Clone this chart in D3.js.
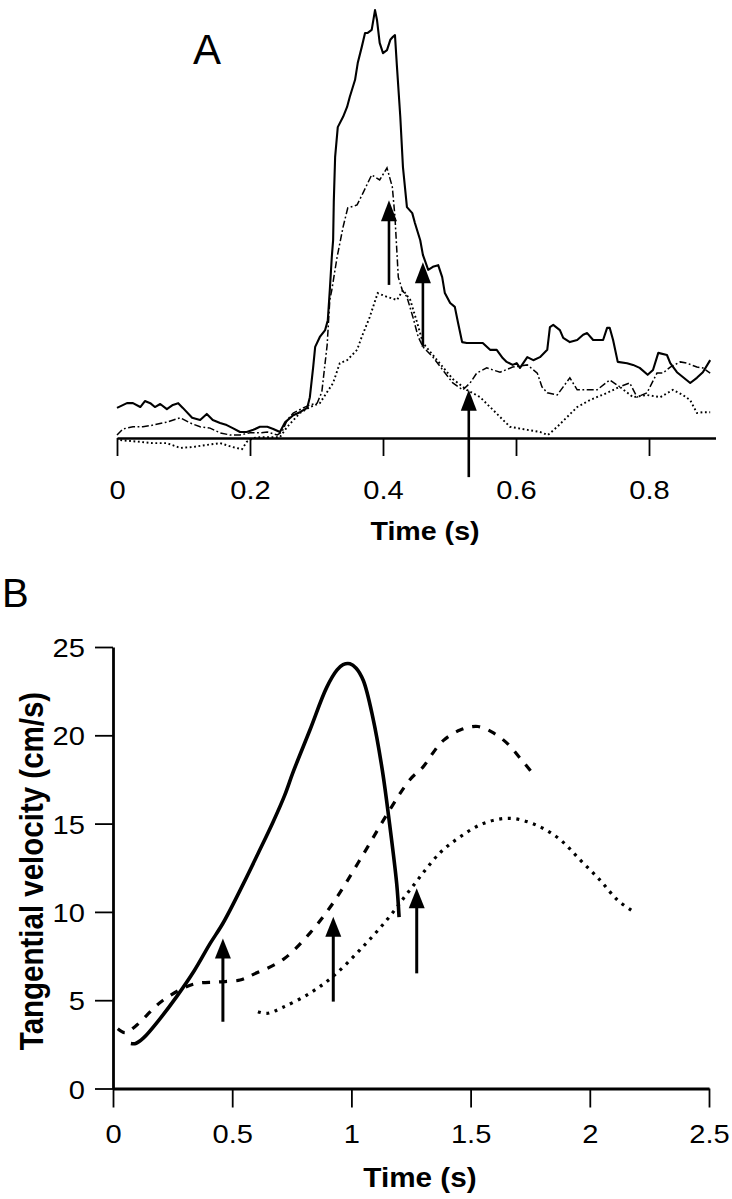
<!DOCTYPE html>
<html>
<head>
<meta charset="utf-8">
<script src="https://cdn.jsdelivr.net/npm/d3@7"></script>
<style>
  html, body { margin: 0; padding: 0; background: #fff; }
  svg { display: block; }
</style>
</head>
<body>
<script>
// ---------- DATA ----------
// Panel A : time (s), amplitude (arbitrary units, 0 = baseline)
const solidA = [
  [0.000,7.0],[0.015,8.1],[0.024,8.1],[0.035,7.2],[0.042,8.6],[0.050,8.1],[0.057,7.2],[0.065,7.9],
  [0.075,6.7],[0.084,7.7],[0.092,8.1],[0.099,7.0],[0.113,4.7],[0.125,4.2],[0.135,5.6],[0.144,4.2],
  [0.155,3.5],[0.165,3.0],[0.174,2.3],[0.185,1.4],[0.195,1.4],[0.205,1.9],[0.215,2.6],[0.226,2.6],
  [0.235,2.1],[0.245,1.4],[0.253,3.7],[0.265,5.3],[0.275,6.0],[0.286,7.0],[0.290,9.5],[0.295,16.5],
  [0.298,21.2],[0.305,23.5],[0.313,25.1],[0.317,27.4],[0.320,34.4],[0.323,42.1],[0.325,46.0],
  [0.326,55.0],[0.328,65.3],[0.332,72.3],[0.340,74.7],[0.346,77.0],[0.350,79.3],[0.358,83.3],
  [0.362,87.2],[0.368,90.9],[0.373,94.2],[0.377,94.2],[0.383,94.9],[0.388,99.5],[0.391,97.2],
  [0.395,91.9],[0.400,89.5],[0.406,90.2],[0.411,92.6],[0.415,93.3],[0.418,93.7],[0.421,86.3],
  [0.426,74.7],[0.430,63.0],[0.436,53.7],[0.444,52.3],[0.448,50.0],[0.456,46.0],[0.460,42.6],
  [0.468,39.1],[0.475,39.8],[0.483,40.2],[0.489,37.4],[0.493,33.7],[0.501,31.4],[0.508,30.5],
  [0.513,26.7],[0.519,22.3],[0.526,22.1],[0.541,22.1],[0.550,22.1],[0.561,20.5],[0.571,20.5],
  [0.580,18.6],[0.586,17.7],[0.595,17.0],[0.601,17.4],[0.606,16.3],[0.617,18.8],[0.626,18.1],
  [0.636,18.8],[0.647,20.5],[0.651,25.8],[0.656,26.3],[0.666,25.1],[0.671,23.3],[0.681,22.3],
  [0.692,22.8],[0.701,24.0],[0.707,24.4],[0.716,22.8],[0.731,22.8],[0.737,25.6],[0.741,25.6],
  [0.746,22.8],[0.753,17.7],[0.767,17.4],[0.776,17.0],[0.786,16.3],[0.798,14.7],[0.806,15.8],
  [0.812,18.8],[0.814,19.8],[0.827,19.3],[0.832,17.4],[0.842,15.3],[0.862,12.8],[0.872,14.0],
  [0.881,15.3],[0.892,18.1]
];
const dashDotA = [
  [0.000,0.7],[0.009,2.1],[0.024,2.6],[0.039,2.6],[0.054,3.0],[0.075,3.7],[0.095,4.7],[0.110,3.5],
  [0.125,2.6],[0.140,2.3],[0.155,1.2],[0.170,0.7],[0.185,0.7],[0.200,1.2],[0.215,1.2],[0.226,1.4],
  [0.241,0.7],[0.248,1.4],[0.256,4.2],[0.265,5.8],[0.280,7.0],[0.290,7.7],[0.301,8.1],[0.308,10.7],
  [0.316,21.6],[0.320,32.1],[0.323,34.4],[0.331,42.1],[0.340,49.1],[0.347,53.5],[0.361,54.2],
  [0.370,57.0],[0.383,61.2],[0.395,60.0],[0.406,62.8],[0.414,58.4],[0.418,51.4],[0.423,37.4],
  [0.429,34.4],[0.436,32.8],[0.445,28.1],[0.453,23.5],[0.460,21.2],[0.475,18.8],[0.490,15.8],
  [0.505,12.8],[0.520,11.2],[0.531,12.8],[0.541,15.1],[0.556,16.3],[0.576,15.3],[0.595,16.5],
  [0.617,17.0],[0.632,15.1],[0.639,11.9],[0.647,10.5],[0.662,10.0],[0.671,11.9],[0.681,14.0],
  [0.692,11.2],[0.707,11.2],[0.722,11.2],[0.741,13.5],[0.756,11.9],[0.771,12.8],[0.782,9.5],
  [0.797,10.5],[0.812,15.1],[0.821,15.1],[0.832,16.5],[0.847,17.7],[0.857,17.4],[0.872,16.5],
  [0.881,16.3],[0.892,15.1]
];
const dottedA = [
  [0.005,-0.5],[0.020,-0.7],[0.035,-0.9],[0.054,-1.2],[0.075,-1.2],[0.095,-2.3],[0.114,-2.1],
  [0.135,-1.6],[0.155,-1.2],[0.174,-2.1],[0.188,-2.6],[0.195,-0.9],[0.205,0.0],[0.215,0.2],
  [0.245,0.2],[0.256,2.6],[0.275,5.8],[0.290,7.2],[0.305,8.1],[0.316,10.7],[0.325,12.8],
  [0.335,17.4],[0.346,18.1],[0.361,20.5],[0.368,23.5],[0.380,28.1],[0.392,33.7],[0.406,32.8],
  [0.421,32.1],[0.430,34.4],[0.441,32.1],[0.451,27.0],[0.460,22.1],[0.475,19.3],[0.490,16.5],
  [0.505,13.7],[0.526,11.2],[0.546,9.5],[0.561,7.2],[0.576,4.9],[0.591,2.6],[0.617,1.9],
  [0.636,1.4],[0.648,0.7],[0.662,2.6],[0.677,4.9],[0.692,7.2],[0.711,8.8],[0.737,10.5],
  [0.756,11.9],[0.776,9.5],[0.797,10.0],[0.817,9.5],[0.836,11.2],[0.851,10.0],[0.862,8.8],
  [0.872,5.8],[0.881,6.0],[0.892,6.0]
];
// arrows A: [time, tail value, tip value]
const arrowsA = [[0.409,35.6,55.3],[0.460,21.2,40.9],[0.529,-9.1,11.2]];
const ticksA = [0, 0.2, 0.4, 0.6, 0.8];
const tickLabelsA = ["0", "0.2", "0.4", "0.6", "0.8"];

// Panel B : time (s), tangential velocity (cm/s)
const solidB = [
  [0.075,2.55],[0.095,2.55],[0.127,2.85],[0.20,4.0],[0.267,5.2],[0.34,6.65],[0.407,8.2],
  [0.463,9.4],[0.547,11.6],[0.61,13.35],[0.67,15.05],[0.72,16.6],[0.755,17.9],[0.826,20.3],
  [0.896,22.7],[0.94,23.7],[0.965,24.0],[0.994,24.05],[1.02,23.8],[1.05,23.1],[1.09,21.0],
  [1.13,18.0],[1.16,15.0],[1.19,11.6],[1.20,9.7]
];
const dashedB = [
  [0.02,3.38],[0.05,3.16],[0.092,3.5],[0.21,5.0],[0.336,5.9],[0.436,6.03],[0.533,6.14],
  [0.587,6.45],[0.713,7.3],[0.826,8.8],[0.923,10.5],[1.036,12.95],[1.162,15.8],[1.246,17.5],
  [1.30,18.2],[1.342,19.0],[1.385,19.7],[1.456,20.3],[1.531,20.5],[1.60,20.1],[1.657,19.5],
  [1.708,18.7],[1.757,17.9]
];
const dottedB = [
  [0.608,4.35],[0.645,4.25],[0.713,4.6],[0.826,5.4],[0.923,6.35],[1.036,7.85],[1.149,9.55],
  [1.246,11.25],[1.372,13.35],[1.456,14.25],[1.552,15.0],[1.665,15.3],[1.778,14.9],
  [1.875,14.1],[1.959,12.95],[2.043,11.8],[2.114,10.7],[2.177,10.07]
];
const arrowsB = [[0.461,3.78,8.5],[0.924,4.92,9.73],[1.274,6.52,11.34]];
const ticksBx = [0, 0.5, 1, 1.5, 2, 2.5];
const tickLabelsBx = ["0", "0.5", "1", "1.5", "2", "2.5"];
const ticksBy = [0, 5, 10, 15, 20, 25];
const tickLabelsBy = ["0", "5", "10", "15", "20", "25"];

// ---------- DRAWING ----------
const W = 732, H = 1199;
const FONT = "'Liberation Sans', Arial, Helvetica, sans-serif";
const SX = 1.12;

const svg = d3.select("body").append("svg")
  .attr("width", W).attr("height", H)
  .attr("viewBox", `0 0 ${W} ${H}`);
svg.append("rect").attr("width", W).attr("height", H).attr("fill", "#fff");

function arrow(g, x, yTail, yTip, headLen, headW, sw) {
  g.append("line")
    .attr("x1", x).attr("x2", x)
    .attr("y1", yTail).attr("y2", yTip + headLen - 1)
    .attr("stroke", "#000").attr("stroke-width", sw);
  g.append("path")
    .attr("d", `M${x},${yTip} L${x - headW / 2},${yTip + headLen} L${x + headW / 2},${yTip + headLen} Z`)
    .attr("fill", "#000");
}

// ===== Panel A =====
const xA = d3.scaleLinear().domain([0, 0.9]).range([117, 715.5]);
const yA = d3.scaleLinear().domain([0, 100]).range([438, 8]);
const gA = svg.append("g");

const lineA = d3.line().x(d => xA(d[0])).y(d => yA(d[1]));

gA.append("path").datum(dottedA).attr("d", lineA)
  .attr("fill", "none").attr("stroke", "#000").attr("stroke-width", 1.9)
  .attr("stroke-dasharray", "1.8,2.6");
gA.append("path").datum(dashDotA).attr("d", lineA)
  .attr("fill", "none").attr("stroke", "#000").attr("stroke-width", 1.5)
  .attr("stroke-dasharray", "7,2.5,1.8,2.5");
gA.append("path").datum(solidA).attr("d", lineA)
  .attr("fill", "none").attr("stroke", "#000").attr("stroke-width", 2.1)
  .attr("stroke-linejoin", "round");

const axA = gA.append("g").attr("transform", `translate(0,${yA(0)})`)
  .call(d3.axisBottom(xA).tickValues(ticksA).tickSize(18).tickSizeOuter(0)
    .tickFormat((d, i) => tickLabelsA[i]));
axA.select(".domain").attr("stroke", "#000").attr("stroke-width", 2.6);
axA.selectAll(".tick line").attr("stroke", "#000").attr("stroke-width", 1.8);
axA.selectAll(".tick text")
  .attr("y", null).attr("dy", null)
  .attr("transform", `translate(0,61) scale(${SX},1)`)
  .attr("fill", "#000").attr("font-family", FONT).attr("font-size", 26)
  .attr("text-anchor", "middle");

arrowsA.forEach(a => arrow(gA, xA(a[0]), yA(a[1]), yA(a[2]), 21, 16, 2.6));

gA.append("text").attr("x", 193).attr("y", 64)
  .attr("font-family", FONT).attr("font-size", 42).attr("fill", "#000").text("A");

gA.append("text").attr("transform", `translate(425,540) scale(1.1,1)`)
  .attr("text-anchor", "middle").attr("font-family", FONT).attr("font-weight", "bold")
  .attr("font-size", 26).attr("fill", "#000").text("Time (s)");

// ===== Panel B =====
const xB = d3.scaleLinear().domain([0, 2.5]).range([113, 709]);
const yB = d3.scaleLinear().domain([0, 25]).range([1088.5, 647]);
const gB = svg.append("g");

const lineB = d3.line().x(d => xB(d[0])).y(d => yB(d[1])).curve(d3.curveCatmullRom.alpha(0.5));

gB.append("path").datum(dottedB).attr("d", lineB)
  .attr("fill", "none").attr("stroke", "#000").attr("stroke-width", 3.2)
  .attr("stroke-dasharray", "3,5.6");
gB.append("path").datum(dashedB).attr("d", lineB)
  .attr("fill", "none").attr("stroke", "#000").attr("stroke-width", 3.2)
  .attr("stroke-dasharray", "8,9");
gB.append("path").datum(solidB).attr("d", lineB)
  .attr("fill", "none").attr("stroke", "#000").attr("stroke-width", 3.6)
  .attr("stroke-linejoin", "round");

const axBx = gB.append("g").attr("transform", `translate(0,${yB(0)})`)
  .call(d3.axisBottom(xB).tickValues(ticksBx).tickSize(19).tickSizeOuter(0)
    .tickFormat((d, i) => tickLabelsBx[i]));
const axBy = gB.append("g").attr("transform", `translate(${xB(0)},0)`)
  .call(d3.axisLeft(yB).tickValues(ticksBy).tickSize(18).tickSizeOuter(0)
    .tickFormat((d, i) => tickLabelsBy[i]));
[axBx, axBy].forEach(ax => {
  ax.select(".domain").attr("stroke", "#000").attr("stroke-width", 2.8);
  ax.selectAll(".tick line").attr("stroke", "#000").attr("stroke-width", 1.8);
  ax.selectAll(".tick text").attr("fill", "#000").attr("font-family", FONT).attr("font-size", 26);
});
axBx.selectAll(".tick text")
  .attr("y", null).attr("dy", null)
  .attr("transform", `translate(0,54) scale(${SX},1)`)
  .attr("text-anchor", "middle");
axBy.selectAll(".tick text")
  .attr("x", null).attr("dy", null)
  .attr("transform", `translate(-28,9.5) scale(${SX},1)`)
  .attr("text-anchor", "end");

arrowsB.forEach(a => arrow(gB, xB(a[0]), yB(a[1]), yB(a[2]), 20, 16, 3));

gB.append("text").attr("x", 2).attr("y", 607)
  .attr("font-family", FONT).attr("font-size", 40).attr("fill", "#000").text("B");

gB.append("text").attr("transform", `translate(420,1187) scale(1.1,1)`)
  .attr("text-anchor", "middle").attr("font-family", FONT).attr("font-weight", "bold")
  .attr("font-size", 27).attr("fill", "#000").text("Time (s)");

gB.append("text").attr("transform", `translate(43,871) scale(1.12,1) rotate(-90)`)
  .attr("text-anchor", "middle").attr("font-family", FONT).attr("font-weight", "bold")
  .attr("font-size", 29.5).attr("fill", "#000").text("Tangential velocity (cm/s)");
</script>
</body>
</html>
